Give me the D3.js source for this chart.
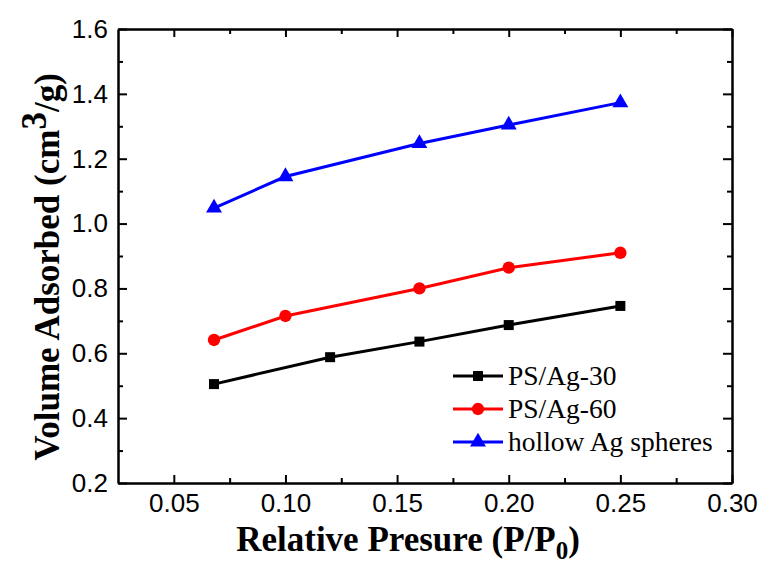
<!DOCTYPE html>
<html>
<head>
<meta charset="utf-8">
<script src="https://cdn.jsdelivr.net/npm/d3@7"></script>
<style>
  body { margin: 0; background: #fff; }
  .axis path, .axis line { stroke: #000; stroke-width: 2px; }
  .axis text { font-family: "Liberation Sans", Arial, sans-serif; font-size: 26px; fill: #000; }
  .title { font-family: "Liberation Serif", "Times New Roman", serif; font-weight: bold; font-size: 35px; fill: #000; }
  .legend text { font-family: "Liberation Serif", "Times New Roman", serif; font-size: 27.5px; fill: #000; }
</style>
</head>
<body>
<script>
// data
var pressure30 = [0.068, 0.12, 0.16, 0.20, 0.25];
var volume30 = [0.505, 0.588, 0.636, 0.687, 0.746];
var pressure60 = [0.068, 0.10, 0.16, 0.20, 0.25];
var volume60 = [0.641, 0.715, 0.800, 0.864, 0.910];
var pressureHollow = [0.068, 0.10, 0.16, 0.20, 0.25];
var volumeHollow = [1.048, 1.145, 1.247, 1.304, 1.373];
var seriesNames = ["PS/Ag-30", "PS/Ag-60", "hollow Ag spheres"];
var xTicks = [0.05, 0.10, 0.15, 0.20, 0.25, 0.30];
var xMinor = [0.075, 0.125, 0.175, 0.225, 0.275];
var yTicks = [0.2, 0.4, 0.6, 0.8, 1.0, 1.2, 1.4, 1.6];
var yMinor = [0.3, 0.5, 0.7, 0.9, 1.1, 1.3, 1.5];

var margin = {top: 29, right: 33, bottom: 82, left: 118},
    width = 765 - margin.left - margin.right,
    height = 565 - margin.top - margin.bottom;

var x = d3.scaleLinear().domain([0.025, 0.30]).range([0, width]);
var y = d3.scaleLinear().domain([0.2, 1.6]).range([height, 0]);

var svg = d3.select("body").append("svg")
    .attr("width", 765)
    .attr("height", 565)
  .append("g")
    .attr("transform", "translate(" + margin.left + "," + margin.top + ")");

var fmt2 = d3.format(".2f"), fmt1 = d3.format(".1f");

// bottom axis
svg.append("g").attr("class", "axis")
    .attr("transform", "translate(0," + height + ")")
    .call(d3.axisBottom(x).tickValues(xTicks).tickFormat(fmt2).tickSizeInner(-8).tickSizeOuter(0).tickPadding(11));
svg.append("g").attr("class", "axis")
    .attr("transform", "translate(0," + height + ")")
    .call(d3.axisBottom(x).tickValues(xMinor).tickFormat("").tickSizeInner(-5).tickSizeOuter(0));
// top axis
svg.append("g").attr("class", "axis")
    .call(d3.axisTop(x).tickValues(xTicks).tickFormat("").tickSizeInner(-8).tickSizeOuter(0));
svg.append("g").attr("class", "axis")
    .call(d3.axisTop(x).tickValues(xMinor).tickFormat("").tickSizeInner(-5).tickSizeOuter(0));
// left axis
svg.append("g").attr("class", "axis")
    .call(d3.axisLeft(y).tickValues(yTicks).tickFormat(fmt1).tickSizeInner(-9).tickSizeOuter(0).tickPadding(10));
svg.append("g").attr("class", "axis")
    .call(d3.axisLeft(y).tickValues(yMinor).tickFormat("").tickSizeInner(-5).tickSizeOuter(0));
// right axis
svg.append("g").attr("class", "axis")
    .attr("transform", "translate(" + width + ",0)")
    .call(d3.axisRight(y).tickValues(yTicks).tickFormat("").tickSizeInner(-9).tickSizeOuter(0));
svg.append("g").attr("class", "axis")
    .attr("transform", "translate(" + width + ",0)")
    .call(d3.axisRight(y).tickValues(yMinor).tickFormat("").tickSizeInner(-5).tickSizeOuter(0));

var series = [
  {name: seriesNames[0], color: "#000000", shape: d3.symbolSquare, size: 100,
   values: pressure30.map(function(p, i) { return {x: p, y: volume30[i]}; })},
  {name: seriesNames[1], color: "#ff0000", shape: d3.symbolCircle, size: 120,
   values: pressure60.map(function(p, i) { return {x: p, y: volume60[i]}; })},
  {name: seriesNames[2], color: "#0000ff", shape: d3.symbolTriangle, size: 110,
   values: pressureHollow.map(function(p, i) { return {x: p, y: volumeHollow[i]}; })}
];

var line = d3.line()
    .x(function(d) { return x(d.x); })
    .y(function(d) { return y(d.y); });

series.forEach(function(s) {
  svg.append("path")
      .datum(s.values)
      .attr("fill", "none")
      .attr("stroke", s.color)
      .attr("stroke-width", 3)
      .attr("d", line);
  svg.selectAll(null)
      .data(s.values)
    .enter().append("path")
      .attr("transform", function(d) { return "translate(" + x(d.x) + "," + y(d.y) + ")"; })
      .attr("d", d3.symbol().type(s.shape).size(s.size))
      .attr("fill", s.color);
});

// legend
var legend = svg.selectAll(".legend")
    .data(series)
  .enter().append("g")
    .attr("class", "legend")
    .attr("transform", function(d, i) { return "translate(" + (453 - margin.left) + "," + (376 - margin.top + i * 33) + ")"; });
legend.append("line")
    .attr("x1", 0).attr("x2", 50)
    .attr("stroke", function(d) { return d.color; })
    .attr("stroke-width", 3);
legend.append("path")
    .attr("transform", "translate(25,0)")
    .attr("d", function(d) { return d3.symbol().type(d.shape).size(d.size)(); })
    .attr("fill", function(d) { return d.color; });
legend.append("text")
    .attr("x", 55)
    .attr("dy", "0.33em")
    .text(function(d) { return d.name; });

// axis titles
var xt = svg.append("text")
    .attr("class", "title")
    .attr("x", 408 - margin.left)
    .attr("y", height + 68)
    .style("text-anchor", "middle");
xt.append("tspan").text("Relative Presure (P/P");
xt.append("tspan").attr("dy", 8).style("font-size", "25px").text("0");
xt.append("tspan").attr("dy", -8).text(")");

var yt = svg.append("text")
    .attr("class", "title")
    .attr("transform", "rotate(-90)")
    .attr("x", -(267 - margin.top))
    .attr("y", -59)
    .style("text-anchor", "middle");
yt.append("tspan").text("Volume Adsorbed (cm");
yt.append("tspan").attr("dy", -13).text("3");
yt.append("tspan").attr("dy", 13).text("/g)");
</script>
</body>
</html>
